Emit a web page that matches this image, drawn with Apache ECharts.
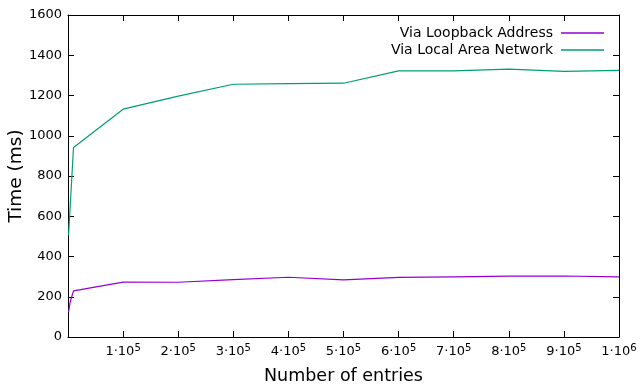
<!DOCTYPE html>
<html>
<head>
<meta charset="utf-8">
<script src="https://cdn.jsdelivr.net/npm/echarts@6/dist/echarts.min.js"></script>
<style>
    html, body { margin: 0; padding: 0; background: #fff; }
    #main { width: 640px; height: 387px; }
</style>
</head>
<body>
<div id="main"></div>
<script>
    // 数据
    var entriesLoop = [1000, 4000, 10000, 100000, 200000, 300000, 400000, 500000, 600000, 700000, 800000, 900000, 1000000];
    var timeLoop = [124, 175, 229, 273, 272, 285, 297, 284, 296, 299, 302, 303, 299];
    var entriesLan = [1000, 10000, 100000, 200000, 300000, 400000, 500000, 600000, 700000, 800000, 900000, 1000000];
    var timeLan = [505, 942, 1132, 1197, 1256, 1259, 1261, 1322, 1322, 1331, 1320, 1325];
    var seriesNames = ['Via Loopback Address', 'Via Local Area Network'];
    var seriesColors = ['#9400d3', '#009e73'];
    var yTicks = [0, 200, 400, 600, 800, 1000, 1200, 1400, 1600];

    var font = 'DejaVu Sans';

    function pairs(xs, ys) {
        var list = [];
        for (var i = 0; i < xs.length; i++) {
            list.push([xs[i], ys[i]]);
        };
        return list;
    };

    // x轴标签 1·10^5
    function sciLabel(v) {
        if (v == 0) return '';
        var exp = Math.floor(Math.log10(v) + 1e-9);
        var m = Math.round(v / Math.pow(10, exp));
        return '{a|' + m + '·10}{s|' + exp + '}';
    };

    var axisLine = { show: true, onZero: false, lineStyle: { color: '#000', width: 1 } };
    var tickStyle = { show: true, inside: true, length: 6, lineStyle: { color: '#000', width: 1 } };

    var myChart = echarts.init(document.getElementById('main'), null, { renderer: 'canvas' });
    var option = {
        animation: false,
        backgroundColor: '#fff',
        grid: { left: 68, right: 21, top: 15, bottom: 50, containLabel: false, outerBoundsMode: 'none' },
        legend: {
            orient: 'vertical',
            right: 31,
            top: 21,
            align: 'right',
            icon: 'rect',
            itemWidth: 43,
            itemHeight: 1.5,
            itemGap: 3,
            textStyle: { fontFamily: font, fontSize: 14, color: '#000', padding: [0, 3, 0, 0] },
            data: seriesNames
        },
        xAxis: [{
            type: 'value',
            min: 0,
            max: 1000000,
            interval: 100000,
            position: 'bottom',
            name: 'Number of entries',
            nameLocation: 'middle',
            nameGap: 30,
            nameMoveOverlap: false,
            nameTextStyle: { fontFamily: font, fontSize: 17.5, color: '#000' },
            axisLine: axisLine,
            axisTick: tickStyle,
            splitLine: { show: false },
            axisLabel: {
                margin: 6,
                formatter: sciLabel,
                rich: {
                    a: { fontFamily: font, fontSize: 13, color: '#000' },
                    s: { fontFamily: font, fontSize: 10, color: '#000', padding: [0, 0, 8, 0] }
                }
            }
        }, {
            type: 'value',
            min: 0,
            max: 1000000,
            interval: 100000,
            position: 'top',
            axisLine: axisLine,
            axisTick: tickStyle,
            splitLine: { show: false },
            axisLabel: { show: false }
        }],
        yAxis: [{
            type: 'value',
            min: yTicks[0],
            max: yTicks[yTicks.length - 1],
            interval: 200,
            position: 'left',
            name: 'Time (ms)',
            nameLocation: 'middle',
            nameGap: 42,
            nameMoveOverlap: false,
            nameTextStyle: { fontFamily: font, fontSize: 18.5, color: '#000' },
            axisLine: axisLine,
            axisTick: tickStyle,
            splitLine: { show: false },
            axisLabel: {
                margin: 6, fontFamily: font, fontSize: 13, color: '#000',
                formatter: function (v) { return String(v); }
            }
        }, {
            type: 'value',
            min: yTicks[0],
            max: yTicks[yTicks.length - 1],
            interval: 200,
            position: 'right',
            axisLine: axisLine,
            axisTick: tickStyle,
            splitLine: { show: false },
            axisLabel: { show: false }
        }],
        series: [{
            name: seriesNames[0],
            type: 'line',
            showSymbol: false,
            color: seriesColors[0],
            lineStyle: { width: 1.2, color: seriesColors[0] },
            data: pairs(entriesLoop, timeLoop)
        }, {
            name: seriesNames[1],
            type: 'line',
            showSymbol: false,
            color: seriesColors[1],
            lineStyle: { width: 1.2, color: seriesColors[1] },
            data: pairs(entriesLan, timeLan)
        }]
    };
    myChart.setOption(option);
</script>
</body>
</html>
